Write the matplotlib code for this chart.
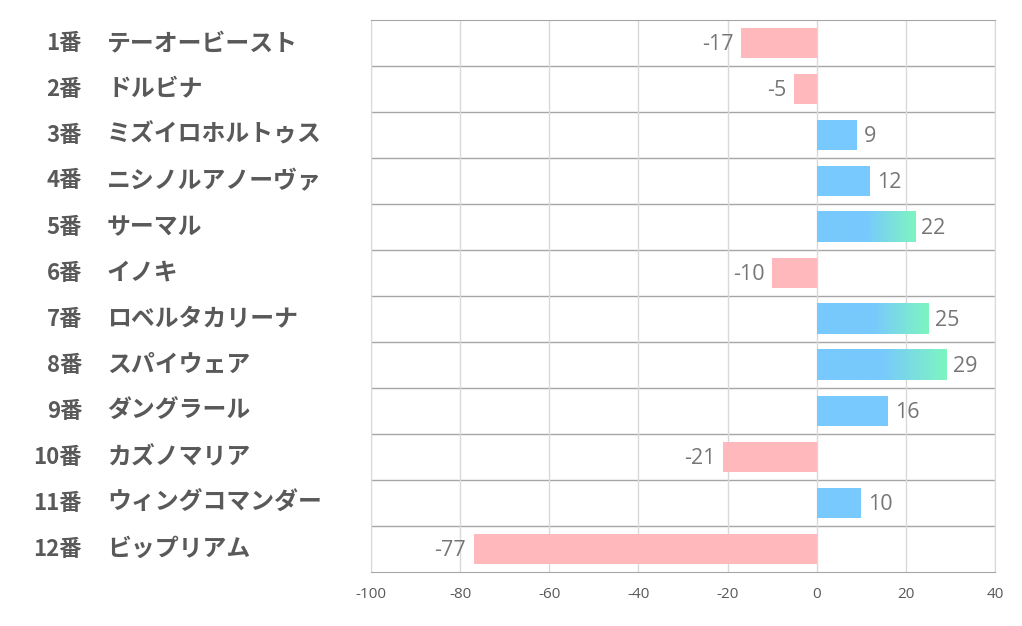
import matplotlib
matplotlib.use("Agg")
import matplotlib.pyplot as plt
import numpy as np
from matplotlib.colors import LinearSegmentedColormap

plt.rcParams["font.family"] = ["Noto Sans CJK JP", "DejaVu Sans"]

numbers = ["1番", "2番", "3番", "4番", "5番", "6番", "7番", "8番", "9番", "10番", "11番", "12番"]
names = ["テーオービースト", "ドルビナ", "ミズイロホルトゥス", "ニシノルアノーヴァ", "サーマル", "イノキ",
         "ロベルタカリーナ", "スパイウェア", "ダングラール", "カズノマリア", "ウィングコマンダー", "ビップリアム"]
values = [-17, -5, 9, 12, 22, -10, 25, 29, 16, -21, 10, -77]
xticks = [-100, -80, -60, -40, -20, 0, 20, 40]

BLUE = "#78C9FD"
GREEN = "#7DF5C0"
PINK = "#FFB9BC"
TEXT = "#595959"

fig = plt.figure(figsize=(10.22, 6.26), dpi=100)
ax = fig.add_axes([371 / 1022, 1 - 572 / 626, 624 / 1022, 552 / 626])
ax.set_xlim(-100, 40)

height = 0.67
cmap = LinearSegmentedColormap.from_list("bg", [BLUE, BLUE, GREEN])
for i, v in enumerate(values):
    if v < 0:
        ax.barh(i, v, height=height, color=PINK, zorder=2)
        ax.text(v - 1.7, i + 0.04, str(v), ha="right", va="center", fontsize=15.5,
                color="#767676", family=["Open Sans", "DejaVu Sans"])
    else:
        if v > 20:
            grad = np.linspace(0, 1, 256).reshape(1, -1)
            ax.imshow(grad, cmap=cmap, aspect="auto", zorder=2,
                      extent=[0, v, i + height / 2, i - height / 2])
        else:
            ax.barh(i, v, height=height, color=BLUE, zorder=2)
        ax.text(v + 1.5, i + 0.04, str(v), ha="left", va="center", fontsize=15.5,
                color="#767676", family=["Open Sans", "DejaVu Sans"])
ax.set_xlim(-100, 40)
ax.set_ylim(len(values) - 0.5, -0.5)

ax.set_xticks(xticks)
ax.set_xticklabels([str(t) for t in xticks], fontsize=11, color=TEXT,
                   family=["Open Sans", "DejaVu Sans"])
ax.xaxis.grid(True, color="#D9D9D9", linewidth=1, zorder=0)
for y in np.arange(0.5, len(values) - 0.5, 1):
    ax.axhline(y, color="#A6A6A6", linewidth=1, zorder=1)
ax.set_yticks([])
ax.tick_params(axis="x", length=0, pad=11)
for side in ("left", "right"):
    ax.spines[side].set_color("#D9D9D9")
for side in ("top", "bottom"):
    ax.spines[side].set_color("#A6A6A6")

for i, (num, name) in enumerate(zip(numbers, names)):
    y = 1 - (20 + 46 * i + 23) / 626
    fig.text(82 / 1022, y, num, ha="right", va="center", fontsize=16,
             fontweight="bold", color=TEXT)
    fig.text(107 / 1022, y, name, ha="left", va="center", fontsize=17.2,
             fontweight="bold", color=TEXT)

fig.savefig("out.png", dpi=100)
